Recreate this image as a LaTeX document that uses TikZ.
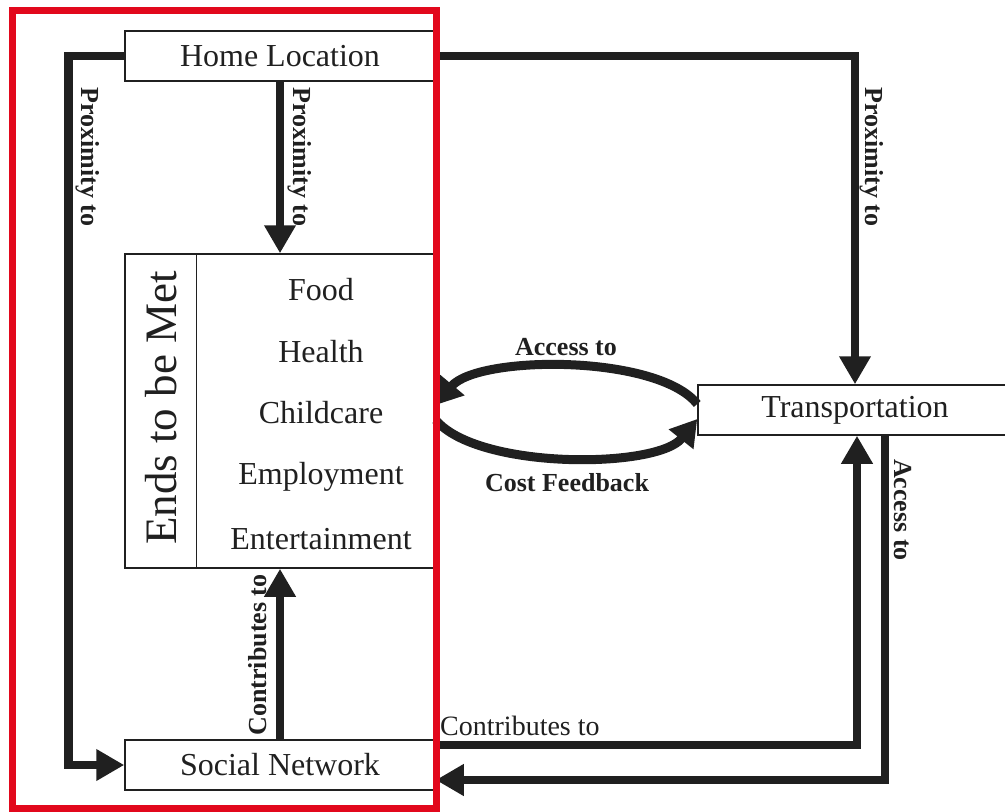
\documentclass[tikz,border=0pt]{standalone}
\usepackage{fontspec}
\setmainfont{Liberation Serif}
\usetikzlibrary{positioning, arrows.meta}
\definecolor{frame red}{RGB}{226,8,28}
\definecolor{ink}{RGB}{32,32,32}

\begin{document}
\begin{tikzpicture}[x=1pt, y=-1pt, color=ink,
  box/.style={draw, line width=1.5pt, fill=white, minimum width=310pt,
    minimum height=50pt, inner sep=0pt, font=\fontsize{32}{38}\selectfont},
  link/.style={line width=8.5pt, -{Triangle[length=28pt,width=30pt]}},
  feedback/.style={line width=9pt, -{Triangle[length=26pt,width=30pt]}},
  lbl/.style={font=\fontsize{26}{30}\selectfont\bfseries, inner sep=1pt},
  item/.style={font=\fontsize{32}{38}\selectfont}]

\useasboundingbox (0,0) rectangle (1005,812);

\node[box] (home) at (280,56) {Home Location};
\node[box, minimum height=314pt] (ends) at (280,411) {};
\node[box, minimum width=314pt] (trans) at (855,410) {Transportation};
\node[box] (social) at (280,765) {Social Network};

% ends to be met
\draw[line width=1.2pt] ([xshift=72pt]ends.north west) -- ([xshift=72pt]ends.south west);
\node[rotate=90, font=\fontsize{45}{50}\selectfont] (title) at (161,408) {Ends to be Met};
\node[item] (food) at (321,290) {Food};
\node[item] (health) at (321,352) {Health};
\node[item] (childcare) at (321,413) {Childcare};
\node[item] (employment) at (321,477) {Employment};
\node[item] (entertainment) at (321,539) {Entertainment};

\draw[link] (home.west) -- ++(-56,0) |- (social.west);
\draw[link] (home.south) -- (ends.north);
\draw[link] (home.east) -| (trans.north);
\draw[link] (social.north) -- (ends.south);
\draw[link] ([yshift=20pt]social.east) -| ([xshift=2pt]trans.south);
\draw[link] ([xshift=30pt]trans.south) |- ([yshift=-15pt]social.east);

\draw[feedback] ([yshift=6pt]trans.west) .. controls +(-40,-50) and +(42,-50) .. ([yshift=6pt]ends.east);
\draw[feedback] ([yshift=-9pt]ends.east) .. controls +(42,50) and +(-40,50) .. ([yshift=-9pt]trans.west);

\node[lbl, rotate=-90] (prox left) at (88,157) {Proximity to};
\node[lbl, rotate=-90] (prox mid) at (300,157) {Proximity to};
\node[lbl, rotate=-90] (prox right) at (872,157) {Proximity to};
\node[lbl, rotate=-90] (access down) at (903,510) {Access to};
\node[lbl, rotate=90] (contrib up) at (258,655) {Contributes to};
\node[lbl] (access top) at (566,347) {Access to};
\node[lbl] (cost) at (567,483) {Cost Feedback};
\node[font=\fontsize{28}{32}\selectfont, anchor=base west, inner sep=0pt] (contrib right) at (440,735) {Contributes to};

\draw[frame red, line width=7pt] (12,10) rectangle (436,808);

\end{tikzpicture}
\end{document}
